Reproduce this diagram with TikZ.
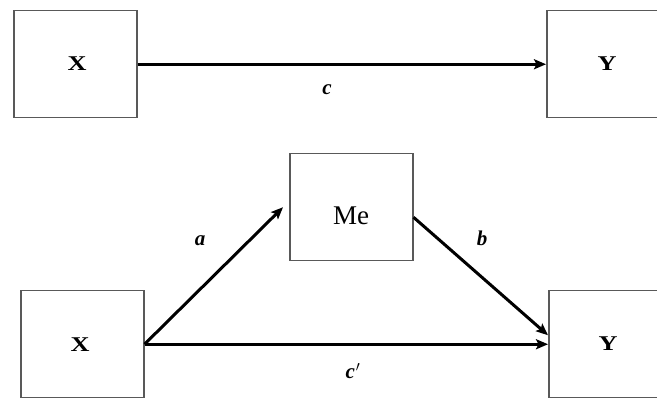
\documentclass[tikz,border=0pt]{standalone}
\usepackage{fontspec}
\setmainfont{Liberation Serif}
\usetikzlibrary{arrows.meta,calc}
\begin{document}
\begin{tikzpicture}[x=1pt,y=-1pt,
  box/.style={draw=black!65,line width=1.5pt,fill=white,minimum width=123pt,minimum height=107pt,inner sep=0pt,anchor=north west},
  vartext/.style={font=\fontsize{21}{21}\selectfont\bfseries},
  pathlab/.style={font=\fontsize{21}{21}\selectfont\bfseries\itshape},
  arr/.style={line width=3pt,-{Stealth[length=12pt,width=10pt,inset=2.5pt]}}]
\useasboundingbox (0,0) rectangle (657,398);
\clip (0,0) rectangle (657,398);
\fill[white] (0,0) rectangle (657,398);
% top row
\node[box] (X1) at (13,10) {};
\node[box] (Y1) at (546,10) {};
\node[vartext] (tx1) at (77,64) {\scalebox{1.25}[1]{X}};
\node[vartext] (ty1) at (607,64) {\scalebox{1.25}[1]{Y}};
\draw[arr] (X1.east) -- (Y1.west);
\node[pathlab] (lc) at (327,90) {c};
% bottom row
\node[box] (X2) at (20,290) {};
\node[box] (Y2) at (548,290) {};
\node[box] (Me) at (289,153) {};
\node[vartext] (tx2) at (80,345) {\scalebox{1.25}[1]{X}};
\node[vartext] (ty2) at (608,344) {\scalebox{1.25}[1]{Y}};
\node[font=\fontsize{27}{27}\selectfont] (tme) at (351,216) {Me};
\coordinate (aend) at ($(Me.west)+(-6,0)$);
\coordinate (bstart) at ($(Me.east)+(0,10)$);
\coordinate (bend) at ($(Y2.west)+(0,-9)$);
\draw[arr] (X2.east) -- (Y2.west);
\draw[arr] (X2.east) -- (aend);
\draw[arr] (bstart) -- (bend);
\node[pathlab] (la) at (200,241) {a};
\node[pathlab] (lb) at (482,238) {b};
\node[pathlab] (lcp) at (353,371) {c\kern1pt$^{\prime}$};
\end{tikzpicture}
\end{document}
